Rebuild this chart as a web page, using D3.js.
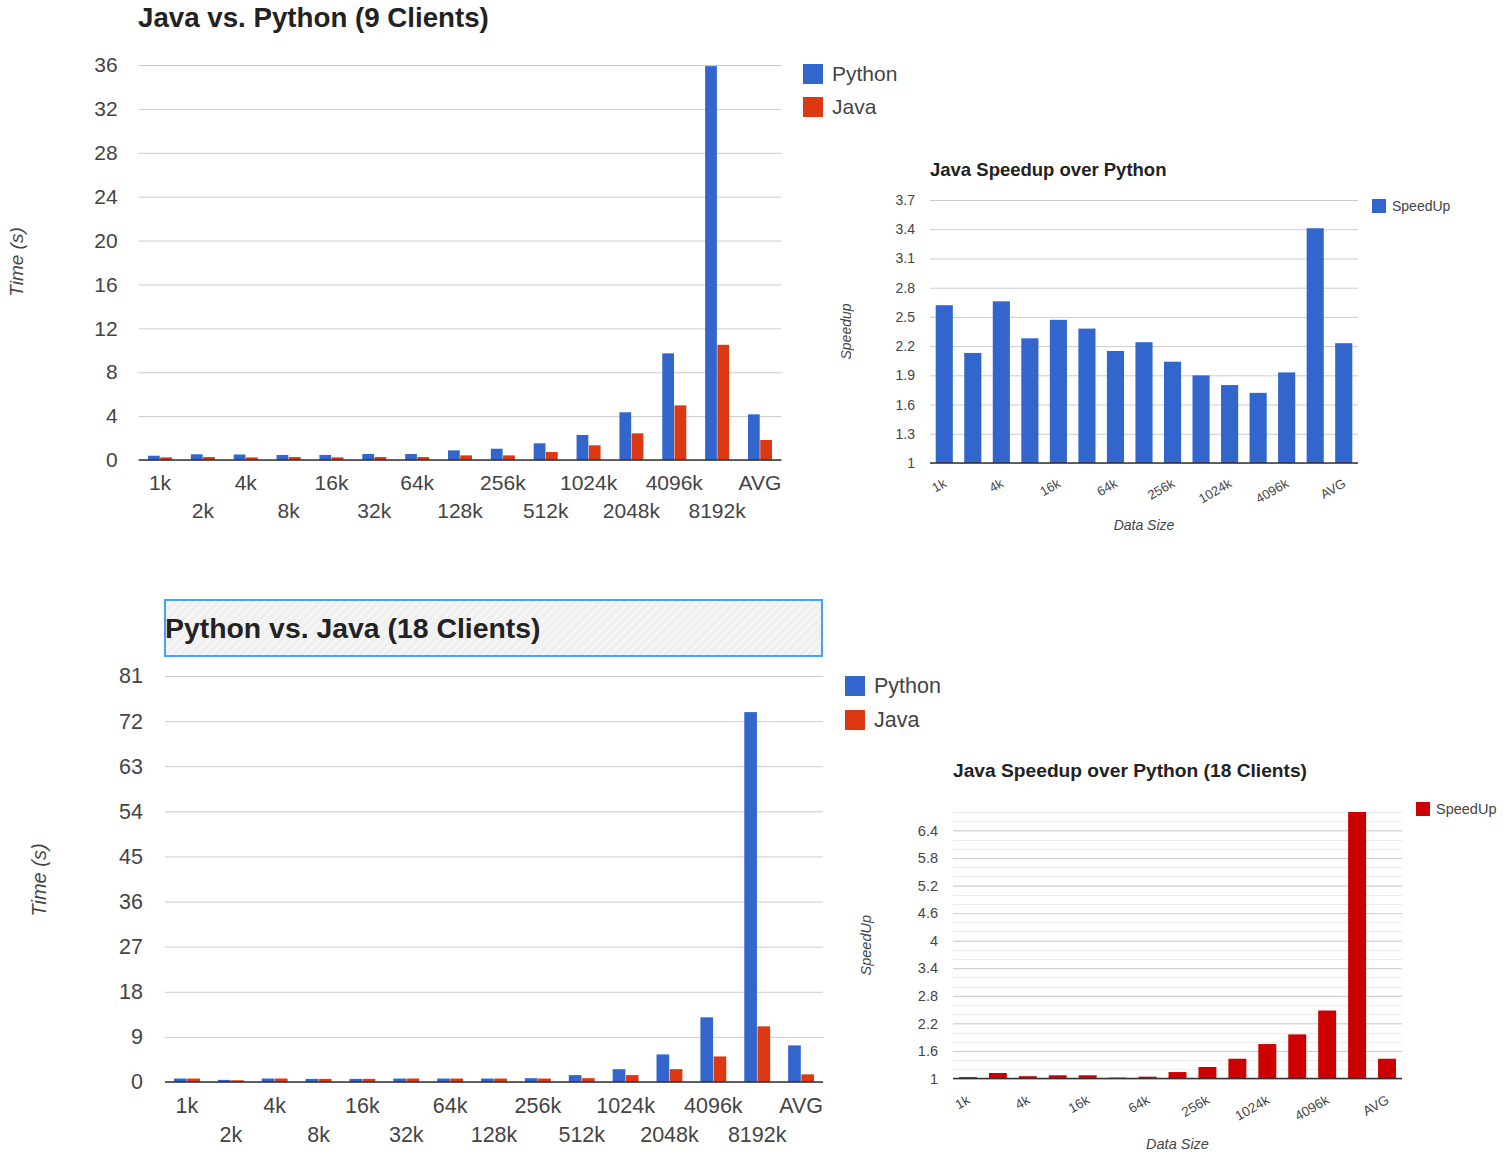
<!DOCTYPE html>
<html><head><meta charset="utf-8">
<script src="https://cdn.jsdelivr.net/npm/d3@7"></script>
<style>
body{margin:0;background:#fff;}
svg{display:block;font-family:Arial,"Liberation Sans",sans-serif;}
</style></head><body>
<svg id="c" width="1512" height="1157"></svg>
<script>
const categories = ["1k","2k","4k","8k","16k","32k","64k","128k","256k","512k","1024k","2048k","4096k","8192k","AVG"];
const python9  = [0.39,0.52,0.50,0.46,0.46,0.55,0.55,0.88,1.03,1.52,2.28,4.35,9.72,35.9,4.16];
const java9    = [0.24,0.27,0.24,0.27,0.24,0.27,0.27,0.42,0.42,0.73,1.34,2.43,4.98,10.5,1.82];
const speedup9 = [2.62,2.13,2.66,2.28,2.47,2.38,2.15,2.24,2.04,1.90,1.80,1.72,1.93,3.41,2.23];
const python18 = [0.69,0.42,0.69,0.62,0.62,0.69,0.69,0.69,0.76,1.38,2.56,5.5,12.9,73.8,7.3];
const java18   = [0.69,0.35,0.69,0.62,0.62,0.69,0.69,0.69,0.69,0.76,1.38,2.56,5.1,11.1,1.52];
const speedup18 = [1.03,1.12,1.05,1.07,1.07,1.02,1.04,1.14,1.25,1.43,1.75,1.96,2.48,6.8,1.43];
const timeTicks9 = [0,4,8,12,16,20,24,28,32,36];
const speedTicks9 = [1,1.3,1.6,1.9,2.2,2.5,2.8,3.1,3.4,3.7];
const timeTicks18 = [0,9,18,27,36,45,54,63,72,81];
const speedTicks18 = [1,1.6,2.2,2.8,3.4,4,4.6,5.2,5.8,6.4];
const speedMinorStep18 = 0.2;
const seriesNames = ["Python","Java"];
const BLUE = "#3366cc", RED = "#dc3912", DARKRED = "#cc0000";

const svg = d3.select("#c");

const defs = svg.append("defs");
const pat = defs.append("pattern").attr("id","hatch").attr("patternUnits","userSpaceOnUse")
  .attr("width",6).attr("height",6).attr("patternTransform","rotate(45)");
pat.append("rect").attr("width",6).attr("height",6).attr("fill","#f0f0f0");
pat.append("line").attr("x1",0).attr("y1",0).attr("x2",0).attr("y2",6).attr("stroke","#fbfbfb").attr("stroke-width",2);

function timeChart(o) {
  const g = svg.append("g");
  const x = d3.scaleBand().domain(categories).range([o.x0, o.x1]).paddingInner(o.pad).paddingOuter(o.pad/2);
  const xs = d3.scaleBand().domain(seriesNames).range([0, x.bandwidth()]).paddingInner(0.04);
  const y = d3.scaleLinear().domain([o.ticks[0], o.ticks[o.ticks.length-1]]).range([o.yBase, o.yTop]);
  const ax = g.append("g").attr("transform",`translate(${o.x0},0)`)
    .call(d3.axisLeft(y).tickValues(o.ticks).tickSize(-(o.x1-o.x0)).tickPadding(o.tickPad));
  ax.select(".domain").remove();
  ax.selectAll(".tick line").attr("stroke","#cccccc");
  ax.selectAll(".tick text").attr("font-size",o.fs).attr("fill","#444").attr("font-family","Arial, 'Liberation Sans', sans-serif");
  const series = [o.a, o.b];
  const colors = [BLUE, RED];
  series.forEach((vals, si) => {
    g.append("g").selectAll("rect").data(vals).join("rect")
      .attr("x",(d,i)=>x(categories[i]) + xs(seriesNames[si]))
      .attr("width", xs.bandwidth())
      .attr("y", d=>y(d)).attr("height", d=>y(0)-y(d))
      .attr("fill", colors[si]);
  });
  g.append("line").attr("x1",o.x0).attr("x2",o.x1).attr("y1",y(0)).attr("y2",y(0))
    .attr("stroke","#333").attr("stroke-width",1.5);
  const xa = g.append("g").attr("transform",`translate(0,${y(0)})`)
    .call(d3.axisBottom(x).tickSize(0).tickPadding(0));
  xa.select(".domain").remove();
  xa.selectAll(".tick text").attr("font-size",o.fs).attr("fill","#444")
    .attr("font-family","Arial, 'Liberation Sans', sans-serif")
    .attr("dy",null)
    .attr("y",(d,i)=> i%2===0 ? o.row1 : o.row2);
  g.append("text").attr("x",o.titleX).attr("y",o.titleY).attr("font-size",o.titleFs)
    .attr("font-weight","bold").attr("fill","#222").text(o.title);
  g.append("text").attr("transform",`translate(${o.ytX},${o.ytY}) rotate(-90)`)
    .attr("text-anchor","middle").attr("font-style","italic").attr("font-size",o.ytFs)
    .attr("fill","#444").text("Time (s)");
  seriesNames.forEach((n,i)=>{
    g.append("rect").attr("x",o.lgX).attr("y",o.lgY + i*o.lgStep).attr("width",20).attr("height",20).attr("fill",colors[i]);
    g.append("text").attr("x",o.lgX+29).attr("y",o.lgY + i*o.lgStep + 17).attr("font-size",o.fs).attr("fill","#444").text(n);
  });
  return g;
}

function speedChart(o) {
  const g = svg.append("g");
  const x = d3.scaleBand().domain(categories).range([o.x0, o.x1]).paddingInner(0.4).paddingOuter(0.2);
  const y = d3.scaleLinear().domain([o.ticks[0], o.yMax]).range([o.yBase, o.yTop]);
  if (o.minor) {
    const minor = d3.range(o.ticks[0], o.yMax + 1e-9, o.minor);
    g.append("g").selectAll("line").data(minor).join("line")
      .attr("x1",o.x0).attr("x2",o.x1).attr("y1",d=>Math.round(y(d))+0.5).attr("y2",d=>Math.round(y(d))+0.5)
      .attr("stroke","#ececec");
  }
  const ax = g.append("g").attr("transform",`translate(${o.x0},0)`)
    .call(d3.axisLeft(y).tickValues(o.ticks).tickSize(-(o.x1-o.x0)).tickPadding(15).tickFormat(d=>String(+d.toFixed(1))));
  ax.select(".domain").remove();
  ax.selectAll(".tick line").attr("stroke","#cccccc");
  ax.selectAll(".tick text").attr("font-size",o.fs).attr("fill","#444").attr("font-family","Arial, 'Liberation Sans', sans-serif");
  g.append("g").selectAll("rect").data(o.vals).join("rect")
    .attr("x",(d,i)=>x(categories[i])).attr("width",x.bandwidth())
    .attr("y",d=>y(d)).attr("height",d=>y(o.ticks[0])-y(d)).attr("fill",o.color);
  g.append("line").attr("x1",o.x0).attr("x2",o.x1).attr("y1",y(o.ticks[0])).attr("y2",y(o.ticks[0]))
    .attr("stroke","#333").attr("stroke-width",1.5);
  g.append("g").selectAll("text").data(categories.filter((c,i)=>i%2===0)).join("text")
    .attr("transform",d=>`translate(${x(d)+x.bandwidth()/2+3},${y(o.ticks[0])+o.lblDy}) rotate(-30)`)
    .attr("text-anchor","end").attr("font-size",o.fs-1).attr("fill","#444").text(d=>d);
  g.append("text").attr("x",(o.x0+o.x1)/2).attr("y",o.dsY).attr("text-anchor","middle")
    .attr("font-style","italic").attr("font-size",o.fs).attr("fill","#444").text("Data Size");
  g.append("text").attr("transform",`translate(${o.ytX},${(o.yBase+o.yTop)/2}) rotate(-90)`)
    .attr("text-anchor","middle").attr("font-style","italic").attr("font-size",o.fs).attr("fill","#444").text(o.yTitle);
  g.append("text").attr("x",o.x0).attr("y",o.titleY).attr("font-size",o.titleFs)
    .attr("font-weight","bold").attr("fill","#222").text(o.title);
  g.append("rect").attr("x",o.lgX).attr("y",o.lgY).attr("width",14).attr("height",14).attr("fill",o.color);
  g.append("text").attr("x",o.lgX+20).attr("y",o.lgY+12).attr("font-size",o.fs).attr("fill","#444").text("SpeedUp");
}

svg.append("rect").attr("x",165).attr("y",600).attr("width",657).attr("height",56)
  .attr("fill","url(#hatch)").attr("stroke","#45a3f2").attr("stroke-width",2);

timeChart({x0:138.6,x1:781.4,pad:0.44,yBase:460,yTop:65,ticks:timeTicks9,a:python9,b:java9,
  fs:21,tickPad:21,row1:30,row2:58,title:"Java vs. Python (9 Clients)",titleX:138,titleY:27,titleFs:27.7,
  ytX:23,ytY:262,ytFs:19,lgX:803,lgY:64,lgStep:33});

timeChart({x0:165,x1:823,pad:0.41,yBase:1082,yTop:676,ticks:timeTicks18,a:python18,b:java18,
  fs:21.5,tickPad:22,row1:31,row2:60,title:"Python vs. Java (18 Clients)",titleX:165,titleY:638,titleFs:28.4,
  ytX:46,ytY:880,ytFs:20,lgX:845,lgY:676,lgStep:34});

speedChart({x0:930,x1:1358,yBase:463,yTop:200,ticks:speedTicks9,yMax:3.7,vals:speedup9,color:BLUE,
  fs:14,lblDy:23,dsY:530,ytX:851,yTitle:"Speedup",title:"Java Speedup over Python",titleY:176,titleFs:18.5,
  lgX:1372,lgY:199});

speedChart({x0:953,x1:1402,yBase:1078.5,yTop:812,ticks:speedTicks18,yMax:6.8,minor:speedMinorStep18,vals:speedup18,color:DARKRED,
  fs:14.5,lblDy:24,dsY:1149,ytX:871,yTitle:"SpeedUp",title:"Java Speedup over Python (18 Clients)",titleY:777,titleFs:19.2,
  lgX:1416,lgY:802});
</script></body></html>
